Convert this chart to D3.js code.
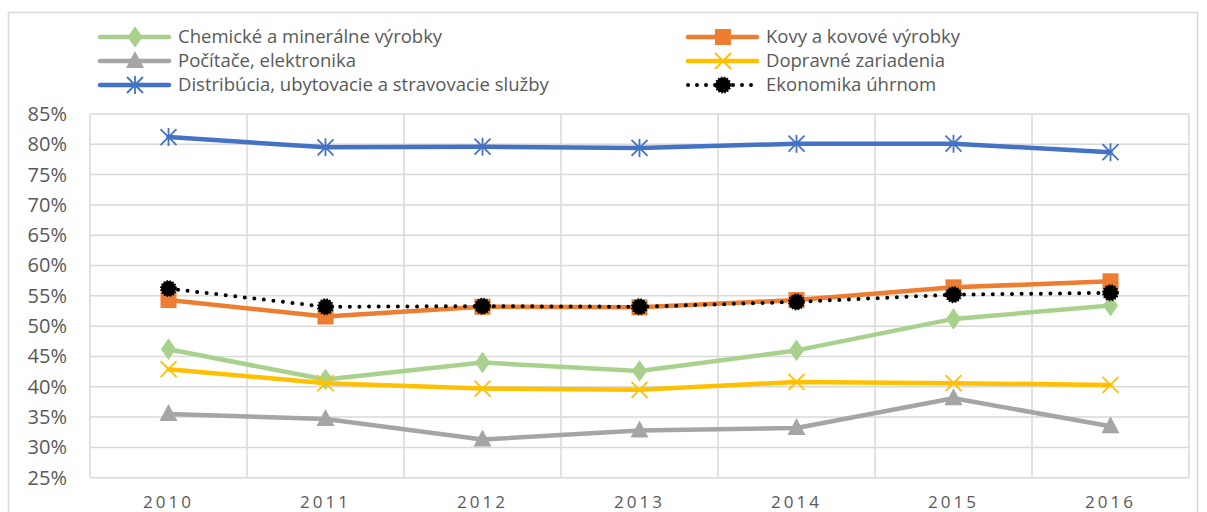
<!DOCTYPE html>
<html>
<head>
<meta charset="utf-8">
<script src="https://cdnjs.cloudflare.com/ajax/libs/d3/7.8.5/d3.min.js"></script>
<style>
  body { margin: 0; background: #fff; }
  svg { display: block; font-family: "Open Sans", "Liberation Sans", sans-serif; }
</style>
</head>
<body>
<div id="chart"></div>
<script>
// data
var years = ["2010", "2011", "2012", "2013", "2014", "2015", "2016"];
var yTicks = [0.25, 0.30, 0.35, 0.40, 0.45, 0.50, 0.55, 0.60, 0.65, 0.70, 0.75, 0.80, 0.85];

var chemicke = [0.462, 0.412, 0.440, 0.426, 0.460, 0.512, 0.534];
var kovy = [0.543, 0.516, 0.532, 0.531, 0.543, 0.564, 0.574];
var pocitace = [0.355, 0.347, 0.313, 0.328, 0.332, 0.381, 0.335];
var dopravne = [0.429, 0.406, 0.397, 0.395, 0.408, 0.406, 0.403];
var distribucia = [0.812, 0.795, 0.796, 0.794, 0.801, 0.801, 0.787];
var ekonomika = [0.562, 0.532, 0.533, 0.532, 0.540, 0.552, 0.555];

var seriesNames = ["Chemické a minerálne výrobky", "Kovy a kovové výrobky", "Počítače, elektronika",
    "Dopravné zariadenia", "Distribúcia, ubytovacie a stravovacie služby", "Ekonomika úhrnom"];

var series = [
    {name: seriesNames[0], values: chemicke, color: "#A9D18E", marker: "diamond"},
    {name: seriesNames[1], values: kovy, color: "#ED7D31", marker: "square"},
    {name: seriesNames[2], values: pocitace, color: "#A5A5A5", marker: "triangle"},
    {name: seriesNames[3], values: dopravne, color: "#FFC000", marker: "x"},
    {name: seriesNames[4], values: distribucia, color: "#4472C4", marker: "star"},
    {name: seriesNames[5], values: ekonomika, color: "#000000", marker: "circle", dotted: true}
];

var W = 1207, H = 512;
var plotLeft = 90, plotRight = 1189, plotTop = 114, plotBottom = 477.7;

var svg = d3.select('#chart')
    .append('svg')
    .attr('width', W)
    .attr('height', H);

// chart border
svg.append('rect')
    .attr('x', 8.5).attr('y', 12.5)
    .attr('width', 1189).attr('height', 520)
    .attr('fill', 'none')
    .attr('stroke', '#D9D9D9')
    .attr('stroke-width', 1.5);

var x = d3.scaleBand()
    .domain(years)
    .range([plotLeft, plotRight]);

var y = d3.scaleLinear()
    .domain([0.25, 0.85])
    .range([plotBottom, plotTop]);

// horizontal grid
svg.append('g')
    .selectAll('line')
    .data(yTicks)
    .enter()
    .append('line')
    .attr('x1', plotLeft).attr('x2', plotRight)
    .attr('y1', function (d) { return y(d); })
    .attr('y2', function (d) { return y(d); })
    .attr('stroke', '#D9D9D9')
    .attr('stroke-width', 1.5);

// vertical grid at category boundaries
var bounds = years.map(function (d) { return x(d); }).concat([plotRight]);
svg.append('g')
    .selectAll('line')
    .data(bounds)
    .enter()
    .append('line')
    .attr('x1', function (d) { return d; })
    .attr('x2', function (d) { return d; })
    .attr('y1', plotTop).attr('y2', plotBottom)
    .attr('stroke', '#D9D9D9')
    .attr('stroke-width', 1.5);

// y axis
var yAxis = d3.axisLeft(y)
    .tickValues(yTicks)
    .tickFormat(d3.format('.0%'))
    .tickSize(0)
    .tickPadding(23);

var gy = svg.append('g')
    .attr('transform', 'translate(' + plotLeft + ',0)')
    .call(yAxis);
gy.select('.domain').remove();
gy.selectAll('text')
    .attr('fill', '#595959')
    .style('font-size', '20px')
    .style('font-family', '"Open Sans", sans-serif');

// x axis
var xAxis = d3.axisBottom(x)
    .tickSize(0)
    .tickPadding(18);

var gx = svg.append('g')
    .attr('transform', 'translate(0,' + plotBottom + ')')
    .call(xAxis);
gx.select('.domain').remove();
gx.selectAll('text')
    .attr('fill', '#595959')
    .style('font-size', '17px')
    .style('letter-spacing', '3px')
    .style('font-family', '"Open Sans", sans-serif');

function cx(i) { return x(years[i]) + x.bandwidth() / 2; }

function drawMarker(g, type, color, px, py) {
    if (type === 'diamond') {
        g.append('path')
            .attr('d', d3.symbol().type(d3.symbolDiamond).size(150)())
            .attr('transform', 'translate(' + px + ',' + py + ') scale(1.15,0.95)')
            .attr('fill', color);
    } else if (type === 'square') {
        g.append('rect')
            .attr('x', px - 8).attr('y', py - 8)
            .attr('width', 16).attr('height', 16)
            .attr('fill', color);
    } else if (type === 'triangle') {
        g.append('path')
            .attr('d', 'M' + px + ',' + (py - 10) + 'L' + (px + 9) + ',' + (py + 7) + 'L' + (px - 9) + ',' + (py + 7) + 'Z')
            .attr('fill', color);
    } else if (type === 'x') {
        g.append('path')
            .attr('d', 'M' + (px - 8) + ',' + (py - 8) + 'L' + (px + 8) + ',' + (py + 8) +
                'M' + (px + 8) + ',' + (py - 8) + 'L' + (px - 8) + ',' + (py + 8))
            .attr('stroke', color).attr('stroke-width', 1.8).attr('fill', 'none');
    } else if (type === 'star') {
        g.append('path')
            .attr('d', 'M' + (px - 8) + ',' + (py - 8) + 'L' + (px + 8) + ',' + (py + 8) +
                'M' + (px + 8) + ',' + (py - 8) + 'L' + (px - 8) + ',' + (py + 8) +
                'M' + px + ',' + (py - 9) + 'L' + px + ',' + (py + 9))
            .attr('stroke', color).attr('stroke-width', 1.8).attr('fill', 'none');
    } else if (type === 'circle') {
        g.append('circle')
            .attr('cx', px).attr('cy', py).attr('r', 7.5)
            .attr('fill', color)
            .attr('stroke', color)
            .attr('stroke-width', 2)
            .attr('stroke-dasharray', '1.5,1.5');
    }
}

var line = d3.line()
    .x(function (d, i) { return cx(i); })
    .y(function (d) { return y(d); });

series.forEach(function (s) {
    var g = svg.append('g');
    g.append('path')
        .datum(s.values)
        .attr('d', line)
        .attr('fill', 'none')
        .attr('stroke', s.color)
        .attr('stroke-width', s.dotted ? 4 : 4.5)
        .attr('stroke-linecap', 'round')
        .attr('stroke-linejoin', 'round')
        .attr('stroke-dasharray', s.dotted ? '0,9.6' : null);
    s.values.forEach(function (v, i) {
        drawMarker(g, s.marker, s.color, cx(i), y(v));
    });
});

// legend
var legendX = [100, 688];
var legendY = [37, 61, 85];
series.forEach(function (s, i) {
    var lx = legendX[i % 2], ly = legendY[Math.floor(i / 2)];
    var g = svg.append('g');
    g.append('line')
        .attr('x1', lx).attr('x2', lx + 69)
        .attr('y1', ly).attr('y2', ly)
        .attr('stroke', s.color)
        .attr('stroke-width', s.dotted ? 4 : 4.5)
        .attr('stroke-linecap', 'round')
        .attr('stroke-dasharray', s.dotted ? '0,9' : null);
    drawMarker(g, s.marker, s.color, lx + 35, ly);
    g.append('text')
        .attr('x', lx + 78)
        .attr('y', ly)
        .attr('dy', '0.35em')
        .attr('fill', '#595959')
        .style('font-size', '18.5px')
        .text(s.name);
});
</script>
</body>
</html>
